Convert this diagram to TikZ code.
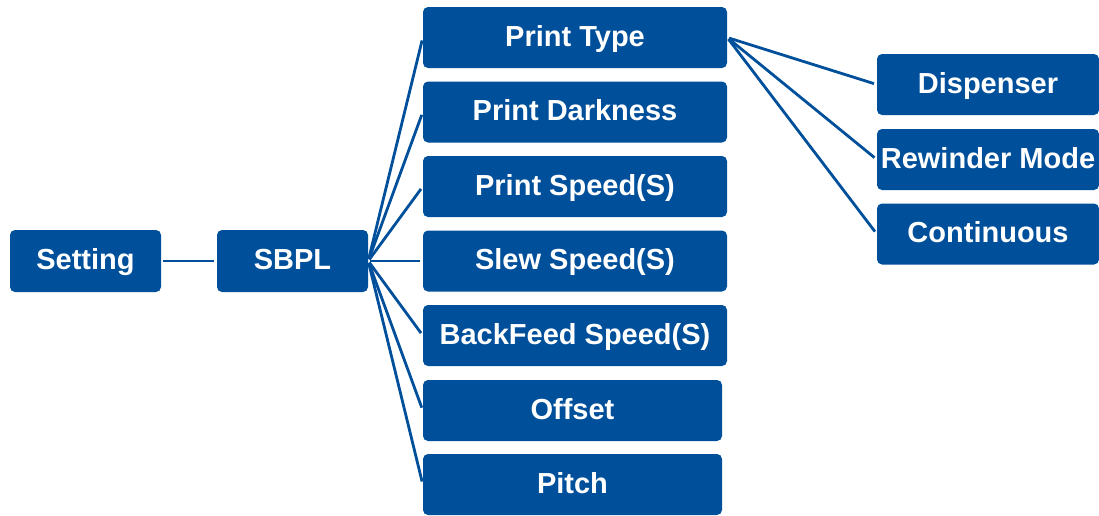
\documentclass[tikz,border=0pt]{standalone}
\usepackage{fontspec}
\setmainfont{Liberation Sans}
\definecolor{menublue}{RGB}{0, 79, 154}

\begin{document}
\begin{tikzpicture}[x=1pt, y=-1pt,
  item/.style={fill=menublue, rounded corners=5pt, minimum width=151pt, minimum height=62pt,
               inner sep=0pt, text=white, text height=17pt, text depth=0pt,
               font=\fontsize{29}{34}\selectfont\bfseries},
  wide/.style={item, minimum width=304pt, minimum height=61pt},
  side/.style={item, minimum width=222pt, minimum height=61pt},
  link/.style={draw=menublue, line width=2.8pt, shorten <=2pt, shorten >=3pt}
]
  \useasboundingbox (0, 0) rectangle (1099, 515);

  \node[item] (setting) at (85.5, 261) {Setting};
  \node[item] (sbpl)    at (292.5, 261) {SBPL};

  \node[wide] (printtype) at (575, 37.5)  {Print Type};
  \node[wide] (darkness)  at (575, 112)   {Print Darkness};
  \node[wide] (speed)     at (575, 186.5) {Print Speed(S)};
  \node[wide] (slew)      at (575, 261)   {Slew Speed(S)};
  \node[wide] (backfeed)  at (575, 335.5) {BackFeed Speed(S)};
  \node[wide, minimum width=299pt] (offset) at (572.5, 410.5) {Offset};
  \node[wide, minimum width=299pt] (pitch)  at (572.5, 484.5) {Pitch};

  \node[side] (dispenser)  at (988, 84.5)  {Dispenser};
  \node[side] (rewinder)   at (988, 159.5) {Rewinder Mode};
  \node[side] (continuous) at (988, 234)   {Continuous};

  \draw[link] (setting) -- (sbpl);

  \draw[link] (sbpl.east) -- (printtype.west);
  \draw[link] (sbpl.east) -- (darkness.west);
  \draw[link] (sbpl.east) -- (speed.west);
  \draw[link] (sbpl.east) -- (slew.west);
  \draw[link] (sbpl.east) -- (backfeed.west);
  \draw[link] (sbpl.east) -- (offset.west);
  \draw[link] (sbpl.east) -- (pitch.west);

  \draw[link] (printtype.east) -- (dispenser.west);
  \draw[link] (printtype.east) -- (rewinder.west);
  \draw[link] (printtype.east) -- (continuous.west);
\end{tikzpicture}
\end{document}
